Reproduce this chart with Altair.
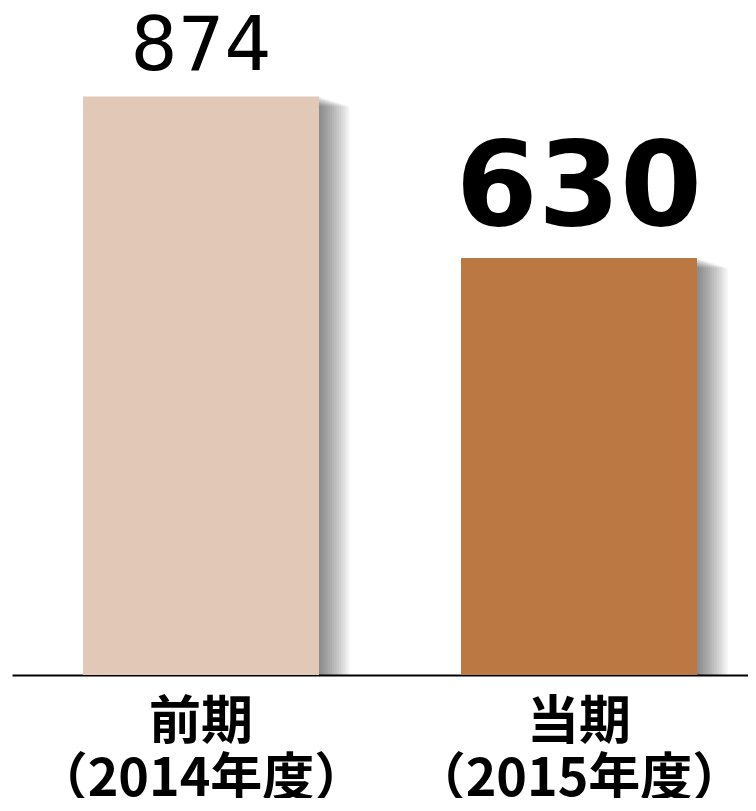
import altair as alt
import pandas as pd

periods = ["前期", "当期"]
years = ["（2014年度）", "（2015年度）"]
values = [874, 630]
colors = ["#E2C8B6", "#BB7842"]

df = pd.DataFrame({
    "label": [p + "|" + y for p, y in zip(periods, years)],
    "value": values,
    "color": colors,
    "idx": [0, 1],
})

order = list(df["label"])
xenc = alt.X(
    "label:N",
    sort=order,
    scale=alt.Scale(paddingInner=0.3757, paddingOuter=0.1614, align=0.582),
    axis=alt.Axis(
        title=None,
        ticks=False,
        domainColor="black",
        domainWidth=2,
        labelAngle=0,
        labelExpr="split(datum.label, '|')",
        labelFont="Noto Sans CJK JP",
        labelFontWeight="bold",
        labelFontSize=52,
        labelLineHeight=57,
        labelColor="black",
        labelPadding=22,
        labelLimit=0,
        labelOverlap=False,
    ),
)
yenc = alt.Y("value:Q", scale=alt.Scale(domain=[0, 1000]), axis=None)

base = alt.Chart(df)

shadows = []
n = 14
for k in range(1, n + 1):
    shadows.append(
        base.mark_bar(color="black", opacity=0.04, xOffset=2.2 * k, yOffset=0.7 * k, clip=True)
        .encode(x=xenc, y=yenc)
    )

bars = base.mark_bar(opacity=1).encode(
    x=xenc, y=yenc, color=alt.Color("color:N", scale=None)
)

t1 = base.transform_filter("datum.idx == 0").mark_text(
    font="DejaVu Sans", fontSize=74, dy=-26, baseline="alphabetic", color="black"
).encode(x=xenc, y=yenc, text="value:Q")

t2 = base.transform_filter("datum.idx == 1").mark_text(
    font="DejaVu Sans", fontWeight="bold", fontSize=118, dy=-33, baseline="alphabetic", color="black"
).encode(x=xenc, y=yenc, text="value:Q")

chart = alt.layer(*shadows, bars, t1, t2).properties(
    width=736,
    height=662,
    autosize=alt.AutoSizeParams(type="none"),
    padding={"left": 4, "top": 5, "right": 0, "bottom": 123},
).configure_view(stroke=None)

chart.save("out.html", embed_options={"renderer": "svg", "actions": False})
